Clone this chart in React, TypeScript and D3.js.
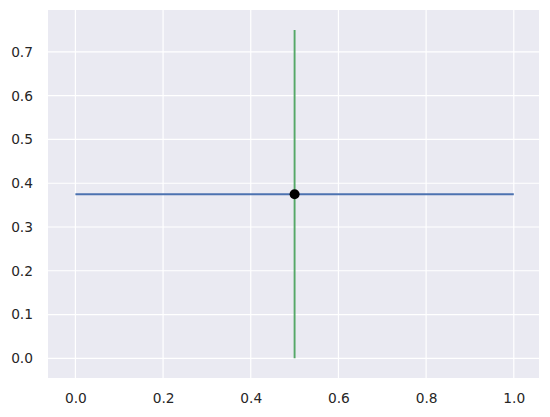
import { useEffect, useRef } from "react";
import * as d3 from "d3";

// chart data
const xTicks = [0, 0.2, 0.4, 0.6, 0.8, 1.0];
const yTicks = [0, 0.1, 0.2, 0.3, 0.4, 0.5, 0.6, 0.7];
const hLine = { y: 0.375, x0: 0, x1: 1 };
const vLine = { x: 0.5, y0: 0, y1: 0.75 };
const points = [{ x: 0.5, y: 0.375 }];

export default function App() {
  const ref = useRef<SVGSVGElement>(null);

  useEffect(() => {
    if (!ref.current) return;
    const svg = d3.select(ref.current);
    svg.selectAll("*").remove();

    const width = 550;
    const height = 417;
    const margin = { top: 10, right: 11, bottom: 39, left: 48 };

    const x = d3.scaleLinear()
      .domain([-0.0625, 1.0575])
      .range([margin.left, width - margin.right]);
    const y = d3.scaleLinear()
      .domain([-0.045, 0.7958])
      .range([height - margin.bottom, margin.top]);

    // background
    svg.append("rect")
      .attr("x", margin.left)
      .attr("y", margin.top)
      .attr("width", width - margin.left - margin.right)
      .attr("height", height - margin.top - margin.bottom)
      .attr("fill", "#EAEAF2");

    // grid
    svg.append("g")
      .selectAll("line")
      .data(xTicks)
      .join("line")
        .attr("x1", d => x(d)).attr("x2", d => x(d))
        .attr("y1", margin.top).attr("y2", height - margin.bottom)
        .attr("stroke", "white").attr("stroke-width", 1.2);
    svg.append("g")
      .selectAll("line")
      .data(yTicks)
      .join("line")
        .attr("y1", d => y(d)).attr("y2", d => y(d))
        .attr("x1", margin.left).attr("x2", width - margin.right)
        .attr("stroke", "white").attr("stroke-width", 1.2);

    // axes (labels only, seaborn darkgrid has no spines)
    const xAxis = svg.append("g")
      .attr("transform", `translate(0,${height - margin.bottom})`)
      .call(d3.axisBottom(x).tickValues(xTicks).tickFormat(d3.format(".1f")).tickSize(0).tickPadding(15));
    const yAxis = svg.append("g")
      .attr("transform", `translate(${margin.left},0)`)
      .call(d3.axisLeft(y).tickValues(yTicks).tickFormat(d3.format(".1f")).tickSize(0).tickPadding(15));
    [xAxis, yAxis].forEach(g => {
      g.select(".domain").remove();
      g.selectAll("text")
        .attr("fill", "#262626")
        .style("font-family", "DejaVu Sans")
        .style("font-size", "13.75px");
    });

    // lines
    svg.append("line")
      .attr("x1", x(hLine.x0)).attr("x2", x(hLine.x1))
      .attr("y1", y(hLine.y)).attr("y2", y(hLine.y))
      .attr("stroke", "#4C72B0").attr("stroke-width", 1.9);
    svg.append("line")
      .attr("x1", x(vLine.x)).attr("x2", x(vLine.x))
      .attr("y1", y(vLine.y0)).attr("y2", y(vLine.y1))
      .attr("stroke", "#55A868").attr("stroke-width", 1.9);

    svg.append("g")
      .selectAll("circle")
      .data(points)
      .join("circle")
        .attr("cx", d => x(d.x))
        .attr("cy", d => y(d.y))
        .attr("r", 5)
        .attr("fill", "black");
  }, []);

  return (
    <svg ref={ref} width={550} height={417} style={{ position: "absolute", left: 0, top: 0, background: "white" }} />
  );
}
